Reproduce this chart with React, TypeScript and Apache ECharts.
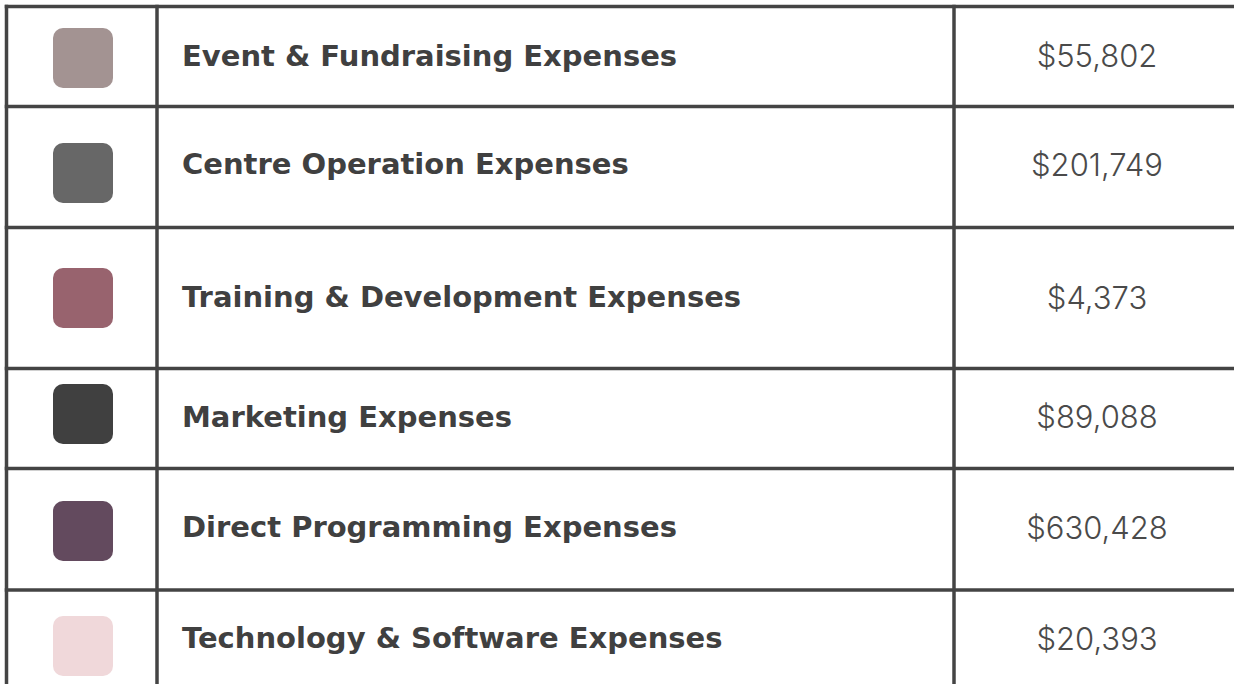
import React, { useEffect, useRef } from "react";
import * as echarts from "echarts";

// ---- data ----
const categories = [
  "Event & Fundraising Expenses",
  "Centre Operation Expenses",
  "Training & Development Expenses",
  "Marketing Expenses",
  "Direct Programming Expenses",
  "Technology & Software Expenses",
];
const amounts = [55802, 201749, 4373, 89088, 630428, 20393];
const swatchColors = ["#a39392", "#676767", "#98636e", "#404040", "#634a5e", "#f0d8da"];

// ---- layout (pixels) ----
const W = 1234;
const H = 684;
const rowLines = [6.5, 106.5, 227.5, 368.5, 468.5, 590];
const rowBottomLast = 690;
const colLines = [6.5, 157, 954];
const swatchTops = [28, 143, 268, 384, 501, 616];
const textOffsets = [-1, -3, -1, -2, -2, -2];
const LINE = "#444444";
const LW = 3.5;

const fmt = (v: number) => "$" + v.toLocaleString("en-US");

export default function App() {
  const ref = useRef<HTMLDivElement>(null);
  useEffect(() => {
    document.body.style.margin = "0";
    if (!ref.current) return;
    const chart = echarts.init(ref.current, null, { renderer: "svg" });
    const els: any[] = [];
    const bounds = [...rowLines, rowBottomLast];
    rowLines.forEach((y) => {
      els.push({
        type: "rect",
        shape: { x: colLines[0] - LW / 2, y: y - LW / 2, width: W + 20, height: LW },
        style: { fill: LINE },
        silent: true,
      });
    });
    colLines.forEach((x) => {
      els.push({
        type: "rect",
        shape: { x: x - LW / 2, y: rowLines[0] - LW / 2, width: LW, height: H + 20 },
        style: { fill: LINE },
        silent: true,
      });
    });
    categories.forEach((name, i) => {
      const top = bounds[i];
      const bot = bounds[i + 1];
      const cy = (top + bot) / 2 + textOffsets[i];
      els.push({
        type: "rect",
        shape: { x: 53, y: swatchTops[i], width: 60, height: 60, r: 10 },
        style: { fill: swatchColors[i] },
      });
      els.push({
        type: "text",
        x: 182,
        y: cy,
        style: {
          text: name,
          fill: "#404040",
          fontFamily: "DejaVu Sans",
          fontWeight: "bold",
          fontSize: 29,
          align: "left",
          verticalAlign: "middle",
          textAlign: "left",
          textVerticalAlign: "middle",
        },
      });
      els.push({
        type: "text",
        x: (colLines[2] + 1240) / 2,
        y: cy,
        style: {
          text: fmt(amounts[i]),
          fill: "#4a4a4a",
          fontFamily: "Inter",
          fontWeight: 300,
          fontSize: 31,
          align: "center",
          verticalAlign: "middle",
          textAlign: "center",
          textVerticalAlign: "middle",
        },
      });
    });
    chart.setOption({
      animation: false,
      backgroundColor: "#ffffff",
      graphic: { elements: els },
    });
    return () => chart.dispose();
  }, []);
  return <div ref={ref} style={{ width: W, height: H }} />;
}
